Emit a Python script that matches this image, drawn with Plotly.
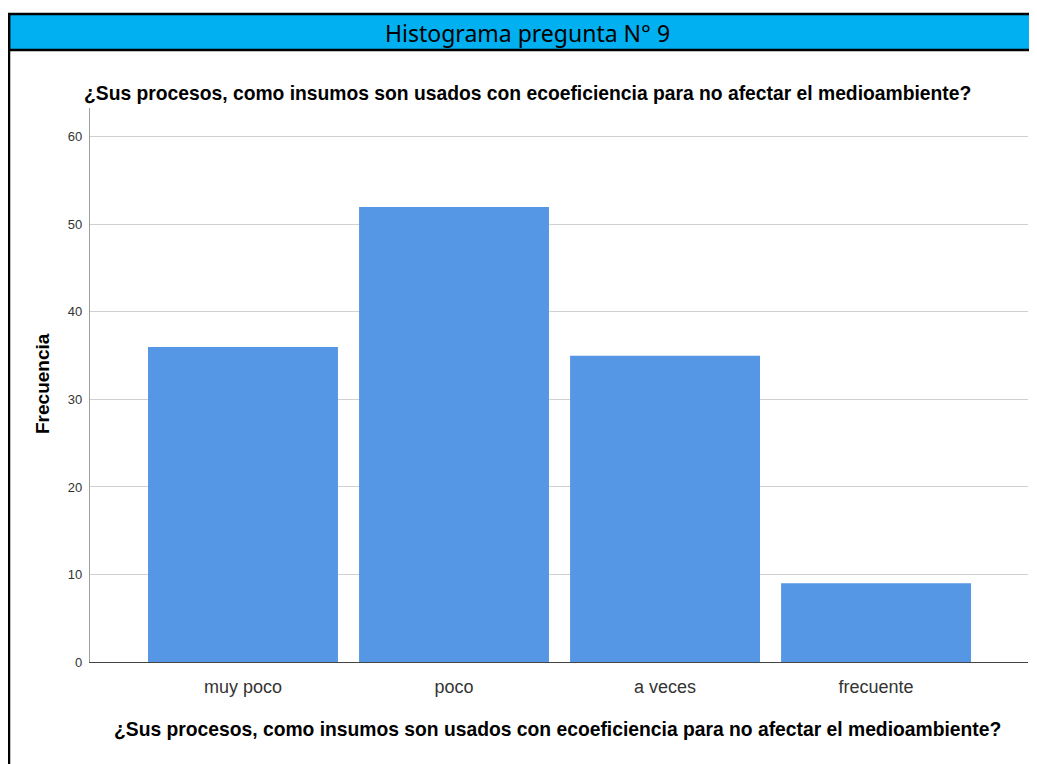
import plotly.graph_objects as go

categories = ["muy poco", "poco", "a veces", "frecuente"]
frecuencia = [36, 52, 35, 9]
y_ticks = [0, 10, 20, 30, 40, 50, 60]

header_text = "Histograma pregunta N° 9"
question = "¿Sus procesos, como insumos son usados con ecoeficiencia para no afectar el medioambiente?"

# page has an 8px body margin; work in reference-screen pixels and offset
OFF = 8
W, H = 1037 - OFF, 764 - OFF
L, R, T, B = 90 - OFF, 9, 108 - OFF, 102
PW, PH = W - L - R, H - T - B

def px(x):
    return (x - OFF - L) / PW

def py(y):
    return (H - B - (y - OFF)) / PH

fig = go.Figure(go.Bar(
    x=categories, y=frecuencia,
    marker=dict(color="#5596E5", line=dict(width=0)),
    width=0.9,
))

shapes = [
    dict(type="rect", xref="paper", yref="paper", x0=px(9), x1=px(1045), y0=py(50), y1=py(14),
         fillcolor="#00B0F0", line=dict(color="black", width=2.5), layer="below"),
    dict(type="line", xref="paper", yref="paper", x0=px(9), x1=px(9), y0=py(14), y1=py(770),
         line=dict(color="black", width=2.5)),
]

annotations = [
    dict(text=header_text, xref="paper", yref="paper", x=px(527), y=py(33), showarrow=False,
         font=dict(family="Noto Sans, Open Sans", size=23, color="black"), xanchor="center", yanchor="middle"),
    dict(text="<b>" + question + "</b>", xref="paper", yref="paper", x=px(527), y=py(93), showarrow=False,
         font=dict(family="Liberation Sans, Arial", size=19.3, color="black"), xanchor="center", yanchor="middle"),
    dict(text="<b>" + question + "</b>", xref="paper", yref="paper", x=px(557), y=py(729), showarrow=False,
         font=dict(family="Liberation Sans, Arial", size=19.3, color="black"), xanchor="center", yanchor="middle"),
    dict(text="<b>Frecuencia</b>", xref="paper", yref="paper", x=px(42), y=py(384), showarrow=False, textangle=-90,
         font=dict(family="Liberation Sans, Arial", size=19, color="black"), xanchor="center", yanchor="middle"),
]

fig.update_layout(
    width=W, height=H,
    margin=dict(l=L, r=R, t=T, b=B),
    paper_bgcolor="white", plot_bgcolor="white",
    showlegend=False,
    shapes=shapes, annotations=annotations,
    xaxis=dict(range=[-0.725, 3.72], showgrid=False, showline=True, linecolor="#444444", linewidth=1.3,
               ticks="", tickfont=dict(family="Liberation Sans, Arial", size=18, color="#333333"),
               ticklabelstandoff=8),
    yaxis=dict(range=[0, 63.3], tickvals=y_ticks, showgrid=True, gridcolor="#D0D0D0", gridwidth=1.3,
               showline=True, linecolor="#A0A0A0", linewidth=1.3, zeroline=False,
               ticks="", tickfont=dict(family="Liberation Sans, Arial", size=13, color="#333333"),
               ticklabelstandoff=4),
    bargap=0.1,
)

fig.write_html("out.html")
